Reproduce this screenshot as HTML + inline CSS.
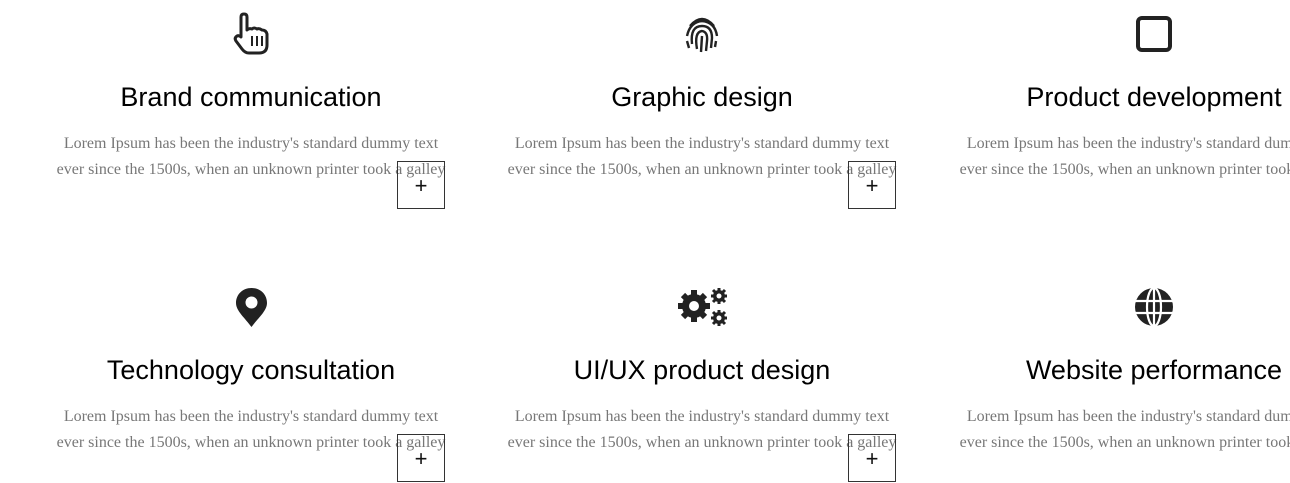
<!DOCTYPE html>
<html><head><meta charset="utf-8">
<style>
html,body{margin:0;padding:0;width:1290px;height:482px;overflow:hidden;background:#fff;}
.c{position:absolute;width:460px;text-align:center;}
.t{font-family:"Liberation Sans","DejaVu Sans",sans-serif;font-size:27px;line-height:30px;color:#000;white-space:nowrap;}
.p{font-family:"Liberation Serif",serif;font-size:16px;line-height:26px;color:#777;white-space:nowrap;}
.b{position:absolute;width:46px;height:46px;border:1px solid #333;font-family:"Liberation Sans",sans-serif;font-size:22px;line-height:48px;text-align:center;color:#111;}
svg{position:absolute;}
</style></head><body>

<svg style="left:232px;top:12px" width="40" height="44" viewBox="0 0 40 44">
<path d="M9 5 Q9 2 12 2 Q15 2 15 5 L15 18 Q17 16 20 17 Q22 15 25 17 Q27 16 30 18 Q34 18 35 22 L35 33 Q35 41 27 41 L17 41 Q13 41 10 37 L4 29 Q2 26 5 24 Q7 23 9 25 Z" fill="none" stroke="#222" stroke-width="3" stroke-linejoin="round"/>
<path d="M20 24v10M25 24v10M30 24v10" stroke="#222" stroke-width="2"/>
</svg>
<svg style="left:682px;top:14px" width="40" height="40" viewBox="0 0 40 40" fill="none" stroke="#222" stroke-width="2.4">
<path d="M8 12 Q20 -2 32 12"/><path d="M5 22 Q8 8 20 7 Q33 8 35 22"/>
<path d="M10 30 Q8 12 20 12 Q30 12 30 24 L29 34"/><path d="M15 35 Q12 18 20 17 Q26 18 25 27 L24 37"/>
<path d="M20 22 L19 38"/><path d="M5 27 L7 34"/><path d="M34 27 L33 33"/>
</svg>
<svg style="left:1136px;top:16px" width="36" height="36" viewBox="0 0 36 36"><rect x="2" y="2" width="32" height="32" rx="4" fill="none" stroke="#222" stroke-width="4"/></svg>

<svg style="left:235px;top:287px" width="33" height="41" viewBox="0 0 33 41"><path d="M16.5 1 C7.5 1 1 7.5 1 16 C1 24 10 31 16.5 40 C23 31 32 24 32 16 C32 7.5 25.5 1 16.5 1 Z" fill="#222"/><circle cx="16.5" cy="15.5" r="6" fill="#fff"/></svg>
<svg style="left:676px;top:286px" width="54" height="42" viewBox="0 0 54 42">
<g fill="#222"><circle cx="18" cy="20" r="12"/><g stroke="#222" stroke-width="6"><path d="M18 4v32M2 20h32M7 9l22 22M29 9L7 31"/></g></g><circle cx="18" cy="20" r="5" fill="#fff"/>
<g fill="#222"><circle cx="43" cy="10" r="6"/><g stroke="#222" stroke-width="3"><path d="M43 2v16M35 10h16M37 4l12 12M49 4L37 16"/></g></g><circle cx="43" cy="10" r="2.5" fill="#fff"/>
<g fill="#222"><circle cx="43" cy="32" r="6"/><g stroke="#222" stroke-width="3"><path d="M43 24v16M35 32h16M37 26l12 12M49 26L37 38"/></g></g><circle cx="43" cy="32" r="2.5" fill="#fff"/>
</svg>
<svg style="left:1134px;top:287px" width="40" height="40" viewBox="0 0 40 40"><circle cx="20" cy="20" r="19" fill="#222"/><g fill="none" stroke="#fff" stroke-width="2.2"><ellipse cx="20" cy="20" rx="7" ry="19"/><path d="M20 1v38M1 14h38M1 26h38"/></g></svg>

<div class="c t" style="left:21px;top:82px">Brand communication</div>
<div class="c p" style="left:21px;top:131px">Lorem Ipsum has been the industry's standard dummy text<br>ever since the 1500s, when an unknown printer took a galley</div>
<div class="b" style="left:397px;top:161px">+</div>

<div class="c t" style="left:472px;top:82px">Graphic design</div>
<div class="c p" style="left:472px;top:131px">Lorem Ipsum has been the industry's standard dummy text<br>ever since the 1500s, when an unknown printer took a galley</div>
<div class="b" style="left:848px;top:161px">+</div>

<div class="c t" style="left:924px;top:82px">Product development</div>
<div class="c p" style="left:924px;top:131px">Lorem Ipsum has been the industry's standard dummy text<br>ever since the 1500s, when an unknown printer took a galley</div>

<div class="c t" style="left:21px;top:355px">Technology consultation</div>
<div class="c p" style="left:21px;top:404px">Lorem Ipsum has been the industry's standard dummy text<br>ever since the 1500s, when an unknown printer took a galley</div>
<div class="b" style="left:397px;top:434px">+</div>

<div class="c t" style="left:472px;top:355px">UI/UX product design</div>
<div class="c p" style="left:472px;top:404px">Lorem Ipsum has been the industry's standard dummy text<br>ever since the 1500s, when an unknown printer took a galley</div>
<div class="b" style="left:848px;top:434px">+</div>

<div class="c t" style="left:924px;top:355px">Website performance</div>
<div class="c p" style="left:924px;top:404px">Lorem Ipsum has been the industry's standard dummy text<br>ever since the 1500s, when an unknown printer took a galley</div>

</body></html>
